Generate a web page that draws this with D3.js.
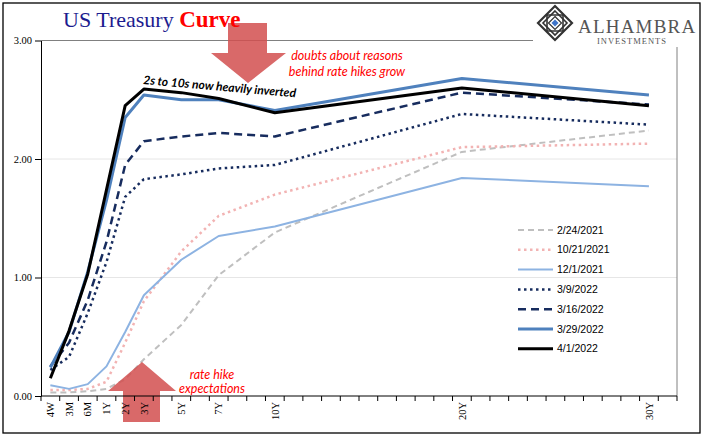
<!DOCTYPE html>
<html><head><meta charset="utf-8">
<script src="https://cdn.jsdelivr.net/npm/d3@7"></script>
<style>body{margin:0;background:#fff}svg{display:block}</style>
</head><body>
<svg id="chart" width="705" height="441"></svg>
<script>
// ---- data ----
const categories = ["4W","3M","6M","1Y","2Y","3Y","4Y","5Y","6Y","7Y","8Y","9Y","10Y","11Y","12Y","13Y","14Y","15Y","16Y","17Y","18Y","19Y","20Y","21Y","22Y","23Y","24Y","25Y","26Y","27Y","28Y","29Y","30Y","31Y"];
const labeledTenors = ["4W","3M","6M","1Y","2Y","3Y","5Y","7Y","10Y","20Y","30Y"];
const tenors = ["4W","3M","6M","1Y","2Y","3Y","5Y","7Y","10Y","20Y","30Y"];
const seriesNames = ["2/24/2021","10/21/2021","12/1/2021","3/9/2022","3/16/2022","3/29/2022","4/1/2022"];
const v20210224 = [0.03,0.03,0.04,0.06,0.14,0.31,0.60,1.02,1.38,2.06,2.24];
const v20211021 = [0.05,0.05,0.06,0.12,0.45,0.80,1.22,1.52,1.70,2.10,2.13];
const v20211201 = [0.09,0.06,0.10,0.25,0.54,0.85,1.15,1.35,1.43,1.84,1.77];
const v20220309 = [0.22,0.33,0.70,1.13,1.68,1.83,1.87,1.92,1.95,2.38,2.29];
const v20220316 = [0.25,0.45,0.81,1.30,1.95,2.15,2.19,2.22,2.19,2.56,2.46];
const v20220329 = [0.24,0.54,1.05,1.65,2.35,2.54,2.50,2.50,2.41,2.68,2.54];
const v20220401 = [0.15,0.55,1.03,1.74,2.45,2.59,2.56,2.51,2.39,2.60,2.45];
const yTicks = [0,1,2,3];

const seriesValues = [v20210224,v20211021,v20211201,v20220309,v20220316,v20220329,v20220401];
const styles = [
  {color:"#BFBFBF", width:2, dash:"6,4"},
  {color:"#F2B3B3", width:2.5, dash:"2.5,3.5"},
  {color:"#8DB3E2", width:2, dash:null},
  {color:"#172C5E", width:2.5, dash:"2.5,3.5"},
  {color:"#172C5E", width:2.5, dash:"8,5"},
  {color:"#4F81BD", width:3, dash:null},
  {color:"#000000", width:3, dash:null}
];

const svg = d3.select("#chart");
const x = d3.scaleBand().domain(categories).range([41,677]).padding(0);
const cx = c => x(c) + x.bandwidth()/2;
const y = d3.scaleLinear().domain([0,3]).range([396,40.5]);

// frame
svg.append("rect").attr("x",3).attr("y",3).attr("width",697).attr("height",430)
  .attr("fill","#fff").attr("stroke","#000").attr("stroke-width",1.3);

// gridlines
svg.append("g").selectAll("line").data(yTicks.filter(d=>d>0 && d<3)).join("line")
  .attr("x1",41).attr("x2",677).attr("y1",d=>y(d)).attr("y2",d=>y(d))
  .attr("stroke","#E6E6E6").attr("stroke-width",1);
// plot border top & right
svg.append("line").attr("x1",41).attr("x2",677).attr("y1",y(3)).attr("y2",y(3)).attr("stroke","#808080").attr("stroke-width",1);
svg.append("line").attr("x1",677).attr("x2",677).attr("y1",y(3)).attr("y2",y(0)).attr("stroke","#808080").attr("stroke-width",1);

// lines
const line = d3.line().x((d,i)=>cx(tenors[i])).y(d=>y(d));
seriesValues.forEach((vals,k)=>{
  const st = styles[k];
  svg.append("path").datum(vals).attr("d",line).attr("fill","none")
    .attr("stroke",st.color).attr("stroke-width",st.width)
    .attr("stroke-dasharray",st.dash).attr("stroke-linejoin","round");
});

// arrows
const arrowFill = "#D24F4F";
svg.append("polygon").attr("points","228,23 267,23 267,53 286,53 248,83 211,53 228,53")
  .attr("fill",arrowFill).attr("opacity",0.85);
svg.append("polygon").attr("points","142,362 176,391 160,391 160,422 123,422 123,391 108,391")
  .attr("fill",arrowFill).attr("opacity",0.85);

// y axis
const yAxis = svg.append("g").attr("transform","translate(41,0)")
  .call(d3.axisLeft(y).tickValues(yTicks).tickFormat(d3.format(".2f")).tickSize(6).tickPadding(3).tickSizeOuter(0));
yAxis.select(".domain").attr("stroke","#000");
yAxis.selectAll("line").attr("stroke","#000");
yAxis.selectAll("text").attr("font-family","'Liberation Serif', serif").attr("font-size","10.5px").attr("fill","#000");

// x axis
svg.append("line").attr("x1",41).attr("x2",677).attr("y1",396).attr("y2",396).attr("stroke","#000").attr("stroke-width",1);
const tickPos = categories.map(c=>x(c)).concat([x.range()[1]]);
svg.append("g").selectAll("line").data(tickPos).join("line")
  .attr("x1",d=>d).attr("x2",d=>d).attr("y1",396).attr("y2",401).attr("stroke","#000");
svg.append("g").selectAll("text").data(labeledTenors).join("text")
  .attr("transform",d=>`translate(${cx(d)},402) rotate(-90)`)
  .attr("text-anchor","end").attr("dy","0.35em")
  .attr("font-family","'Liberation Serif', serif").attr("font-size","10.5px").attr("fill","#000")
  .text(d=>d);

// title
const title = svg.append("text").attr("x",63).attr("y",27).attr("font-family","'Liberation Serif', serif").attr("font-size","22px");
title.append("tspan").attr("fill","#1C1C8F").text("US Treasury ");
title.append("tspan").attr("fill","#FF0000").attr("font-weight","bold").attr("font-size","23px").text("Curve");

// annotations
svg.append("text").attr("x",143).attr("y",84).attr("transform","rotate(5,143,84)")
  .attr("font-family","Lato, sans-serif").attr("font-style","italic").attr("font-weight","bold").attr("font-size","12px").attr("fill","#000")
  .text("2s to 10s now heavily inverted");
const red1 = svg.append("text").attr("text-anchor","middle").attr("font-family","Lato, sans-serif").attr("font-style","italic").attr("font-size","12.5px").attr("fill","#FF0000");
red1.append("tspan").attr("x",347).attr("y",60).text("doubts about reasons");
red1.append("tspan").attr("x",347).attr("y",76).text("behind rate hikes grow");
const red2 = svg.append("text").attr("text-anchor","middle").attr("font-family","Lato, sans-serif").attr("font-style","italic").attr("font-size","12.5px").attr("fill","#FF0000");
red2.append("tspan").attr("x",212).attr("y",379).text("rate hike");
red2.append("tspan").attr("x",212).attr("y",393).text("expectations");

// legend
const leg = svg.append("g");
seriesNames.forEach((name,k)=>{
  const st = styles[k];
  const yy = 230 + k*19.8;
  leg.append("line").attr("x1",518).attr("x2",553).attr("y1",yy).attr("y2",yy)
    .attr("stroke",st.color).attr("stroke-width",st.width).attr("stroke-dasharray",st.dash);
  leg.append("text").attr("x",557).attr("y",yy).attr("dy","0.35em")
    .attr("font-family","'Liberation Sans', Arial, sans-serif").attr("font-size","10.5px").attr("fill","#000").text(name);
});

// logo
const logo = svg.append("g");
logo.append("rect").attr("x",533).attr("y",5).attr("width",166).attr("height",42).attr("fill","#fff");
const dcx = 555, dcy = 23, dr = 17;
const diamond = r => `${dcx},${dcy-r} ${dcx+r},${dcy} ${dcx},${dcy+r} ${dcx-r},${dcy}`;
const square = r => `${dcx-r},${dcy-r} ${dcx+r},${dcy-r} ${dcx+r},${dcy+r} ${dcx-r},${dcy+r}`;
logo.append("polygon").attr("points",diamond(dr)).attr("fill","#fff").attr("stroke","#333").attr("stroke-width",2.2);
logo.append("polygon").attr("points",diamond(12)).attr("fill","none").attr("stroke","#333").attr("stroke-width",1.6);
logo.append("polygon").attr("points",square(8)).attr("fill","none").attr("stroke","#333").attr("stroke-width",1.6);
logo.append("polygon").attr("points",diamond(6.5)).attr("fill","none").attr("stroke","#333").attr("stroke-width",1.2);
logo.append("polygon").attr("points",diamond(3.5)).attr("fill","#3E74C9");
logo.append("text").attr("x",578).attr("y",33).attr("font-family","'Liberation Serif', serif").attr("font-size","19px")
  .attr("letter-spacing","1.2px").attr("fill","#555").text("ALHAMBRA");
logo.append("text").attr("x",597).attr("y",44).attr("font-family","'Liberation Serif', serif").attr("font-size","8.5px")
  .attr("letter-spacing","1px").attr("fill","#555").text("INVESTMENTS");
</script>
</body></html>
